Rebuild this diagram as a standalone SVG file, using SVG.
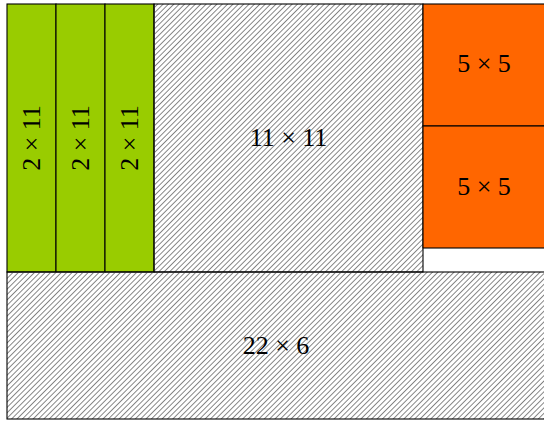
<svg xmlns="http://www.w3.org/2000/svg" width="544" height="423" viewBox="0 0 544 423">
<defs>
<pattern id="hatch" patternUnits="userSpaceOnUse" width="3.8" height="3.8" patternTransform="rotate(45)">
<rect x="0" y="0" width="0.8" height="3.8" fill="#6a6a6a"/>
</pattern>
<style>
.lbl{font-family:"Liberation Serif","DejaVu Serif",serif;font-size:26px;fill:#000;text-anchor:middle}
.box{stroke:#000;stroke-width:1.1}
.green{fill:#99cc00}
.orange{fill:#ff6600}
.hatch{fill:url(#hatch)}
</style>
</defs>
<rect width="544" height="423" fill="#fff"/>
<g id="strip1"><rect class="box green" x="7" y="4" width="49" height="268"/><text class="lbl" transform="translate(40,138) rotate(-90)">2 × 11</text></g>
<g id="strip2"><rect class="box green" x="56" y="4" width="49" height="268"/><text class="lbl" transform="translate(89,138) rotate(-90)">2 × 11</text></g>
<g id="strip3"><rect class="box green" x="105" y="4" width="49" height="268"/><text class="lbl" transform="translate(138,138) rotate(-90)">2 × 11</text></g>
<g id="square11"><rect class="box hatch" x="154" y="4" width="269" height="268"/><text class="lbl" x="288.5" y="146">11 × 11</text></g>
<g id="sq5a"><rect class="box orange" x="423" y="4" width="124" height="122"/><text class="lbl" x="484" y="72">5 × 5</text></g>
<g id="sq5b"><rect class="box orange" x="423" y="126" width="124" height="122"/><text class="lbl" x="484" y="195">5 × 5</text></g>
<g id="bottom"><rect class="box hatch" x="7" y="272" width="540" height="147"/><text class="lbl" x="276" y="354">22 × 6</text></g>
<g id="connectors"></g>
</svg>
